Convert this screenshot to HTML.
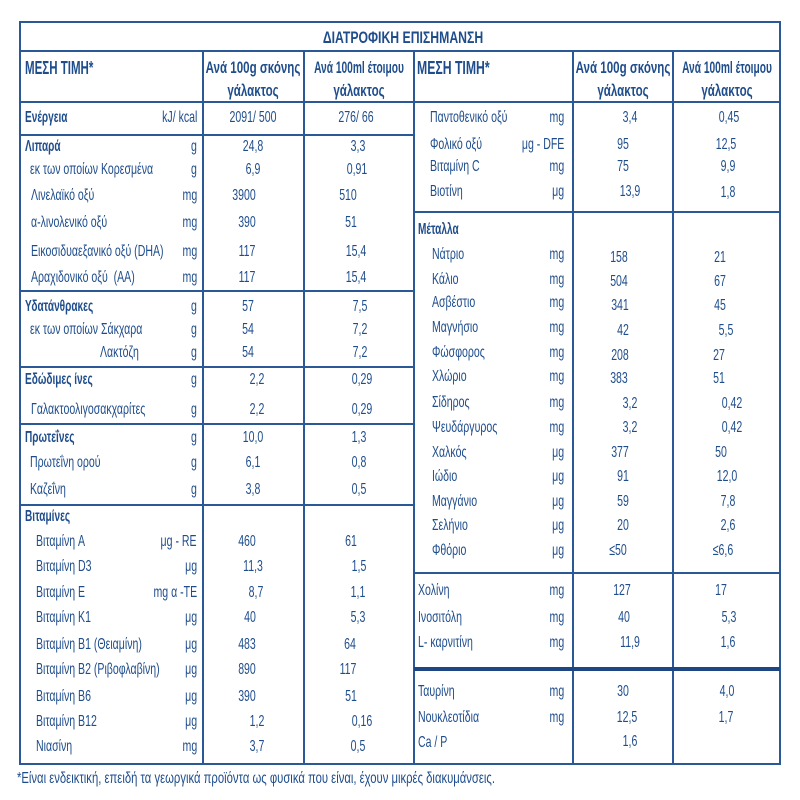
<!DOCTYPE html>
<html><head><meta charset="utf-8">
<style>
html,body{margin:0;padding:0;background:#fff;}
body{width:800px;height:800px;position:relative;overflow:hidden;}
.t{position:absolute;white-space:nowrap;font-family:"Liberation Sans",sans-serif;font-size:16px;line-height:20px;color:#1f4d8c;}
.l{transform:scaleX(.66);transform-origin:0 0;}
.r{transform:scaleX(.66);transform-origin:100% 0;}
.c{transform:translateX(-50%) scaleX(.66);}
.b{font-weight:bold;transform:scaleX(.63);transform-origin:0 0;}
.h{font-weight:bold;font-size:17px;transform:translateX(-50%) scaleX(.68);}
.ln{position:absolute;background:#2b5896;}
</style></head><body>
<div style="position:absolute;left:19px;top:21px;width:762px;height:744px;border:2px solid #2b5896;box-sizing:border-box;"></div>
<div class="ln" style="left:19px;top:50px;width:762px;height:2px"></div>
<div class="ln" style="left:19px;top:101px;width:762px;height:2px"></div>
<div class="ln" style="left:202px;top:51px;width:2px;height:713px"></div>
<div class="ln" style="left:303px;top:51px;width:2px;height:713px"></div>
<div class="ln" style="left:413px;top:51px;width:2px;height:713px"></div>
<div class="ln" style="left:572px;top:51px;width:2px;height:713px"></div>
<div class="ln" style="left:672px;top:51px;width:2px;height:713px"></div>
<div class="ln" style="left:20px;top:134px;width:394px;height:2px"></div>
<div class="ln" style="left:20px;top:290px;width:394px;height:2px"></div>
<div class="ln" style="left:20px;top:366px;width:394px;height:2px"></div>
<div class="ln" style="left:20px;top:423px;width:394px;height:2px"></div>
<div class="ln" style="left:20px;top:504px;width:394px;height:2px"></div>
<div class="ln" style="left:414px;top:211px;width:366px;height:2px"></div>
<div class="ln" style="left:414px;top:572px;width:366px;height:2px"></div>
<div class="ln" style="left:414px;top:667px;width:366px;height:4px;background:#1d4683"></div>

<div class="t" style="left:403px;top:28px;font-weight:bold;font-size:17px;transform:translateX(-50%) scaleX(.72)">ΔΙΑΤΡΟΦΙΚΗ ΕΠΙΣΗΜΑΝΣΗ</div>

<div class="t" style="left:25px;top:58px;font-weight:bold;font-size:18px;transform:scaleX(.64);transform-origin:0 0">ΜΕΣΗ ΤΙΜΗ*</div>
<div class="t h" style="left:253px;top:58px">Ανά 100g σκόνης</div>
<div class="t h" style="left:253px;top:81px">γάλακτος</div>
<div class="t h" style="left:359px;top:58px;transform:translateX(-50%) scaleX(.6)">Ανά 100ml έτοιμου</div>
<div class="t h" style="left:359px;top:81px">γάλακτος</div>
<div class="t" style="left:417px;top:58px;font-weight:bold;font-size:18px;transform:scaleX(.68);transform-origin:0 0">ΜΕΣΗ ΤΙΜΗ*</div>
<div class="t h" style="left:623px;top:58px">Ανά 100g σκόνης</div>
<div class="t h" style="left:623px;top:81px">γάλακτος</div>
<div class="t h" style="left:727px;top:58px;transform:translateX(-50%) scaleX(.6)">Ανά 100ml έτοιμου</div>
<div class="t h" style="left:727px;top:81px">γάλακτος</div>

<!-- LEFT SECTION -->
<div class="t b" style="left:25px;top:108px">Ενέργεια</div>
<div class="t r" style="right:603px;top:108px">kJ/ kcal</div>
<div class="t c" style="left:253px;top:108px">2091/ 500</div>
<div class="t c" style="left:356px;top:108px">276/ 66</div>

<div class="t b" style="left:25px;top:137px">Λιπαρά</div>
<div class="t r" style="right:603px;top:137px">g</div>
<div class="t c" style="left:253px;top:137px">24,8</div>
<div class="t c" style="left:358px;top:137px">3,3</div>

<div class="t l" style="left:30px;top:160px">εκ των οποίων Κορεσμένα</div>
<div class="t r" style="right:603px;top:160px">g</div>
<div class="t c" style="left:253px;top:160px">6,9</div>
<div class="t c" style="left:357px;top:160px">0,91</div>

<div class="t l" style="left:31px;top:186px">Λινελαϊκό οξύ</div>
<div class="t r" style="right:603px;top:186px">mg</div>
<div class="t c" style="left:244px;top:186px">3900</div>
<div class="t c" style="left:348px;top:186px">510</div>

<div class="t l" style="left:31px;top:213px">α-λινολενικό οξύ</div>
<div class="t r" style="right:603px;top:213px">mg</div>
<div class="t c" style="left:247px;top:213px">390</div>
<div class="t c" style="left:351px;top:213px">51</div>

<div class="t l" style="left:31px;top:242px">Εικοσιδυαεξανικό οξύ (DHA)</div>
<div class="t r" style="right:603px;top:242px">mg</div>
<div class="t c" style="left:247px;top:242px">117</div>
<div class="t c" style="left:356px;top:242px">15,4</div>

<div class="t l" style="left:31px;top:268px">Αραχιδονικό οξύ&nbsp; (AA)</div>
<div class="t r" style="right:603px;top:268px">mg</div>
<div class="t c" style="left:247px;top:268px">117</div>
<div class="t c" style="left:356px;top:268px">15,4</div>

<div class="t b" style="left:25px;top:297px">Υδατάνθρακες</div>
<div class="t r" style="right:603px;top:297px">g</div>
<div class="t c" style="left:248px;top:297px">57</div>
<div class="t c" style="left:360px;top:297px">7,5</div>

<div class="t l" style="left:30px;top:320px">εκ των οποίων Σάκχαρα</div>
<div class="t r" style="right:603px;top:320px">g</div>
<div class="t c" style="left:248px;top:320px">54</div>
<div class="t c" style="left:360px;top:320px">7,2</div>

<div class="t l" style="left:100px;top:343px">Λακτόζη</div>
<div class="t r" style="right:603px;top:343px">g</div>
<div class="t c" style="left:248px;top:343px">54</div>
<div class="t c" style="left:360px;top:343px">7,2</div>

<div class="t b" style="left:25px;top:370px">Εδώδιμες ίνες</div>
<div class="t r" style="right:603px;top:370px">g</div>
<div class="t c" style="left:257px;top:370px">2,2</div>
<div class="t c" style="left:362px;top:370px">0,29</div>

<div class="t l" style="left:31px;top:400px">Γαλακτοολιγοσακχαρίτες</div>
<div class="t r" style="right:603px;top:400px">g</div>
<div class="t c" style="left:257px;top:400px">2,2</div>
<div class="t c" style="left:362px;top:400px">0,29</div>

<div class="t b" style="left:25px;top:428px">Πρωτεΐνες</div>
<div class="t r" style="right:603px;top:428px">g</div>
<div class="t c" style="left:253px;top:428px">10,0</div>
<div class="t c" style="left:359px;top:428px">1,3</div>

<div class="t l" style="left:30px;top:453px">Πρωτεΐνη ορού</div>
<div class="t r" style="right:603px;top:453px">g</div>
<div class="t c" style="left:253px;top:453px">6,1</div>
<div class="t c" style="left:359px;top:453px">0,8</div>

<div class="t l" style="left:30px;top:480px">Καζεΐνη</div>
<div class="t r" style="right:603px;top:480px">g</div>
<div class="t c" style="left:253px;top:480px">3,8</div>
<div class="t c" style="left:359px;top:480px">0,5</div>

<div class="t b" style="left:25px;top:507px">Βιταμίνες</div>

<div class="t l" style="left:36px;top:532px">Βιταμίνη A</div>
<div class="t r" style="right:603px;top:532px">μg - RE</div>
<div class="t c" style="left:247px;top:532px">460</div>
<div class="t c" style="left:351px;top:532px">61</div>

<div class="t l" style="left:36px;top:557px">Βιταμίνη D3</div>
<div class="t r" style="right:603px;top:557px">μg</div>
<div class="t c" style="left:253px;top:557px">11,3</div>
<div class="t c" style="left:359px;top:557px">1,5</div>

<div class="t l" style="left:36px;top:583px">Βιταμίνη E</div>
<div class="t r" style="right:603px;top:583px">mg α -TE</div>
<div class="t c" style="left:256px;top:583px">8,7</div>
<div class="t c" style="left:358px;top:583px">1,1</div>

<div class="t l" style="left:36px;top:608px">Βιταμίνη K1</div>
<div class="t r" style="right:603px;top:608px">μg</div>
<div class="t c" style="left:250px;top:608px">40</div>
<div class="t c" style="left:358px;top:608px">5,3</div>

<div class="t l" style="left:36px;top:635px">Βιταμίνη B1 (Θειαμίνη)</div>
<div class="t r" style="right:603px;top:635px">μg</div>
<div class="t c" style="left:247px;top:635px">483</div>
<div class="t c" style="left:350px;top:635px">64</div>

<div class="t l" style="left:36px;top:660px">Βιταμίνη B2 (Ριβοφλαβίνη)</div>
<div class="t r" style="right:603px;top:660px">μg</div>
<div class="t c" style="left:247px;top:660px">890</div>
<div class="t c" style="left:348px;top:660px">117</div>

<div class="t l" style="left:36px;top:687px">Βιταμίνη B6</div>
<div class="t r" style="right:603px;top:687px">μg</div>
<div class="t c" style="left:247px;top:687px">390</div>
<div class="t c" style="left:351px;top:687px">51</div>

<div class="t l" style="left:36px;top:712px">Βιταμίνη B12</div>
<div class="t r" style="right:603px;top:712px">μg</div>
<div class="t c" style="left:257px;top:712px">1,2</div>
<div class="t c" style="left:362px;top:712px">0,16</div>

<div class="t l" style="left:36px;top:737px">Νιασίνη</div>
<div class="t r" style="right:603px;top:737px">mg</div>
<div class="t c" style="left:257px;top:737px">3,7</div>
<div class="t c" style="left:358px;top:737px">0,5</div>

<!-- RIGHT SECTION -->
<div class="t l" style="left:430px;top:108px">Παντοθενικό οξύ</div>
<div class="t r" style="right:236px;top:108px">mg</div>
<div class="t c" style="left:630px;top:108px">3,4</div>
<div class="t c" style="left:729px;top:108px">0,45</div>

<div class="t l" style="left:430px;top:135px">Φολικό οξύ</div>
<div class="t r" style="right:236px;top:135px">μg - DFE</div>
<div class="t c" style="left:623px;top:135px">95</div>
<div class="t c" style="left:726px;top:135px">12,5</div>

<div class="t l" style="left:430px;top:157px">Βιταμίνη C</div>
<div class="t r" style="right:236px;top:157px">mg</div>
<div class="t c" style="left:623px;top:157px">75</div>
<div class="t c" style="left:728px;top:157px">9,9</div>

<div class="t l" style="left:430px;top:182px">Βιοτίνη</div>
<div class="t r" style="right:236px;top:182px">μg</div>
<div class="t c" style="left:630px;top:182px">13,9</div>
<div class="t c" style="left:728px;top:183px">1,8</div>

<div class="t b" style="left:418px;top:220px">Μέταλλα</div>

<div class="t l" style="left:432px;top:245px">Νάτριο</div>
<div class="t r" style="right:236px;top:245px">mg</div>
<div class="t c" style="left:619px;top:248px">158</div>
<div class="t c" style="left:720px;top:248px">21</div>

<div class="t l" style="left:432px;top:270px">Κάλιο</div>
<div class="t r" style="right:236px;top:270px">mg</div>
<div class="t c" style="left:619px;top:272px">504</div>
<div class="t c" style="left:720px;top:272px">67</div>

<div class="t l" style="left:432px;top:293px">Ασβέστιο</div>
<div class="t r" style="right:236px;top:293px">mg</div>
<div class="t c" style="left:620px;top:296px">341</div>
<div class="t c" style="left:720px;top:296px">45</div>

<div class="t l" style="left:432px;top:318px">Μαγνήσιο</div>
<div class="t r" style="right:236px;top:318px">mg</div>
<div class="t c" style="left:623px;top:321px">42</div>
<div class="t c" style="left:726px;top:321px">5,5</div>

<div class="t l" style="left:432px;top:343px">Φώσφορος</div>
<div class="t r" style="right:236px;top:343px">mg</div>
<div class="t c" style="left:620px;top:346px">208</div>
<div class="t c" style="left:719px;top:346px">27</div>

<div class="t l" style="left:432px;top:367px">Χλώριο</div>
<div class="t r" style="right:236px;top:367px">mg</div>
<div class="t c" style="left:619px;top:369px">383</div>
<div class="t c" style="left:719px;top:369px">51</div>

<div class="t l" style="left:432px;top:393px">Σίδηρος</div>
<div class="t r" style="right:236px;top:393px">mg</div>
<div class="t c" style="left:630px;top:394px">3,2</div>
<div class="t c" style="left:732px;top:394px">0,42</div>

<div class="t l" style="left:432px;top:418px">Ψευδάργυρος</div>
<div class="t r" style="right:236px;top:418px">mg</div>
<div class="t c" style="left:630px;top:418px">3,2</div>
<div class="t c" style="left:732px;top:418px">0,42</div>

<div class="t l" style="left:432px;top:443px">Χαλκός</div>
<div class="t r" style="right:236px;top:443px">μg</div>
<div class="t c" style="left:620px;top:443px">377</div>
<div class="t c" style="left:721px;top:443px">50</div>

<div class="t l" style="left:432px;top:467px">Ιώδιο</div>
<div class="t r" style="right:236px;top:467px">μg</div>
<div class="t c" style="left:623px;top:467px">91</div>
<div class="t c" style="left:727px;top:467px">12,0</div>

<div class="t l" style="left:432px;top:492px">Μαγγάνιο</div>
<div class="t r" style="right:236px;top:492px">μg</div>
<div class="t c" style="left:623px;top:492px">59</div>
<div class="t c" style="left:728px;top:492px">7,8</div>

<div class="t l" style="left:432px;top:516px">Σελήνιο</div>
<div class="t r" style="right:236px;top:516px">μg</div>
<div class="t c" style="left:623px;top:516px">20</div>
<div class="t c" style="left:728px;top:516px">2,6</div>

<div class="t l" style="left:432px;top:541px">Φθόριο</div>
<div class="t r" style="right:236px;top:541px">μg</div>
<div class="t c" style="left:618px;top:541px">≤50</div>
<div class="t c" style="left:723px;top:541px">≤6,6</div>

<div class="t l" style="left:418px;top:581px">Χολίνη</div>
<div class="t r" style="right:236px;top:581px">mg</div>
<div class="t c" style="left:622px;top:581px">127</div>
<div class="t c" style="left:721px;top:581px">17</div>

<div class="t l" style="left:418px;top:608px">Ινοσιτόλη</div>
<div class="t r" style="right:236px;top:608px">mg</div>
<div class="t c" style="left:624px;top:608px">40</div>
<div class="t c" style="left:729px;top:608px">5,3</div>

<div class="t l" style="left:418px;top:633px">L- καρνιτίνη</div>
<div class="t r" style="right:236px;top:633px">mg</div>
<div class="t c" style="left:630px;top:633px">11,9</div>
<div class="t c" style="left:728px;top:633px">1,6</div>

<div class="t l" style="left:418px;top:682px">Ταυρίνη</div>
<div class="t r" style="right:236px;top:682px">mg</div>
<div class="t c" style="left:623px;top:682px">30</div>
<div class="t c" style="left:727px;top:682px">4,0</div>

<div class="t l" style="left:418px;top:708px">Νουκλεοτίδια</div>
<div class="t r" style="right:236px;top:708px">mg</div>
<div class="t c" style="left:627px;top:708px">12,5</div>
<div class="t c" style="left:726px;top:708px">1,7</div>

<div class="t l" style="left:418px;top:733px">Ca / P</div>
<div class="t c" style="left:630px;top:732px">1,6</div>

<svg style="position:absolute;left:0;top:0" width="800" height="800">
<text x="17" y="783" textLength="478" lengthAdjust="spacingAndGlyphs" font-family="Liberation Sans, sans-serif" font-size="16" fill="#1f4d8c">*Είναι ενδεικτική, επειδή τα γεωργικά προϊόντα ως φυσικά που είναι, έχουν μικρές διακυμάνσεις.</text>
</svg>
</body></html>
